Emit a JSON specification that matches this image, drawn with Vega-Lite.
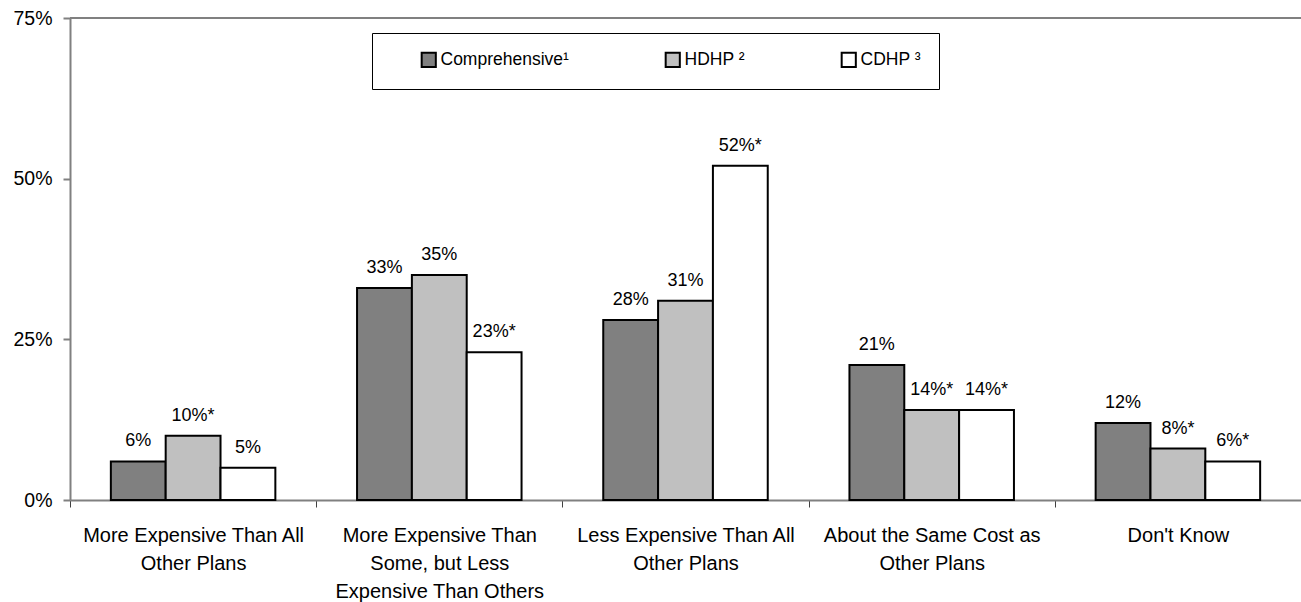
{
  "$schema": "https://vega.github.io/schema/vega-lite/v6.json",
  "width": 1231,
  "height": 482,
  "autosize": {"type": "none"},
  "padding": {"left": 70, "top": 18, "right": 0, "bottom": 102},
  "config": {"view": {"stroke": null}, "font": "Liberation Sans"},
  "data": {
    "values": [
      {"cat": "More Expensive Than All|Other Plans", "plan": "Comprehensive¹", "value": 6, "label": "6%"},
      {"cat": "More Expensive Than All|Other Plans", "plan": "HDHP ²", "value": 10, "label": "10%*"},
      {"cat": "More Expensive Than All|Other Plans", "plan": "CDHP ³", "value": 5, "label": "5%"},
      {"cat": "More Expensive Than|Some, but Less|Expensive Than Others", "plan": "Comprehensive¹", "value": 33, "label": "33%"},
      {"cat": "More Expensive Than|Some, but Less|Expensive Than Others", "plan": "HDHP ²", "value": 35, "label": "35%"},
      {"cat": "More Expensive Than|Some, but Less|Expensive Than Others", "plan": "CDHP ³", "value": 23, "label": "23%*"},
      {"cat": "Less Expensive Than All|Other Plans", "plan": "Comprehensive¹", "value": 28, "label": "28%"},
      {"cat": "Less Expensive Than All|Other Plans", "plan": "HDHP ²", "value": 31, "label": "31%"},
      {"cat": "Less Expensive Than All|Other Plans", "plan": "CDHP ³", "value": 52, "label": "52%*"},
      {"cat": "About the Same Cost as|Other Plans", "plan": "Comprehensive¹", "value": 21, "label": "21%"},
      {"cat": "About the Same Cost as|Other Plans", "plan": "HDHP ²", "value": 14, "label": "14%*"},
      {"cat": "About the Same Cost as|Other Plans", "plan": "CDHP ³", "value": 14, "label": "14%*"},
      {"cat": "Don't Know", "plan": "Comprehensive¹", "value": 12, "label": "12%"},
      {"cat": "Don't Know", "plan": "HDHP ²", "value": 8, "label": "8%*"},
      {"cat": "Don't Know", "plan": "CDHP ³", "value": 6, "label": "6%*"}
    ]
  },
  "layer": [
    {
      "mark": {"type": "bar", "stroke": "black", "strokeWidth": 2},
      "encoding": {
        "x": {
          "field": "cat", "type": "nominal", "sort": null,
          "scale": {"paddingInner": 0, "paddingOuter": 0},
          "axis": {
            "title": null, "labelAngle": 0, "tickBand": "extent",
            "domainColor": "#808080", "domainWidth": 2,
            "tickColor": "#404040", "tickWidth": 1, "tickSize": 7,
            "labelExpr": "split(datum.label, '|')",
            "labelFontSize": 20, "labelLineHeight": 28, "labelBaseline": "alphabetic",
            "labelPadding": 34, "labelColor": "black", "labelLimit": 400
          }
        },
        "xOffset": {
          "field": "plan", "type": "nominal",
          "scale": {"domain": ["Comprehensive¹", "HDHP ²", "CDHP ³"], "paddingInner": 0, "paddingOuter": 0.745}
        },
        "y": {
          "field": "value", "type": "quantitative",
          "scale": {"domain": [0, 75], "nice": false},
          "axis": {
            "title": null, "values": [0, 25, 50, 75], "grid": false,
            "labelExpr": "datum.value + '%'",
            "domainColor": "#808080", "domainWidth": 2,
            "tickColor": "#808080", "tickWidth": 2, "tickSize": 7,
            "labelPadding": 11, "labelFontSize": 19.5, "labelColor": "black"
          }
        },
        "color": {
          "field": "plan", "type": "nominal",
          "scale": {"domain": ["Comprehensive¹", "HDHP ²", "CDHP ³"], "range": ["#808080", "#c0c0c0", "#ffffff"]},
          "legend": {
            "orient": "none", "legendX": 302, "legendY": 15,
            "direction": "horizontal", "columns": 3, "columnPadding": 92,
            "title": " ", "titleOrient": "left", "titlePadding": 30,
            "padding": 18, "strokeColor": "black", "fillColor": "white",
            "symbolType": "square", "symbolSize": 200,
            "symbolStrokeColor": "black", "symbolStrokeWidth": 2,
            "labelFontSize": 17.5, "labelOffset": 3, "labelColor": "black"
          }
        }
      }
    },
    {
      "mark": {"type": "text", "dy": -15, "baseline": "alphabetic", "fontSize": 18, "color": "black"},
      "encoding": {
        "x": {"field": "cat", "type": "nominal", "sort": null},
        "xOffset": {"field": "plan", "type": "nominal"},
        "y": {"field": "value", "type": "quantitative"},
        "text": {"field": "label"}
      }
    },
    {
      "data": {"values": [{}]},
      "mark": {"type": "rule", "color": "#808080", "strokeWidth": 2},
      "encoding": {"y": {"datum": 75, "type": "quantitative"}}
    }
  ]
}
